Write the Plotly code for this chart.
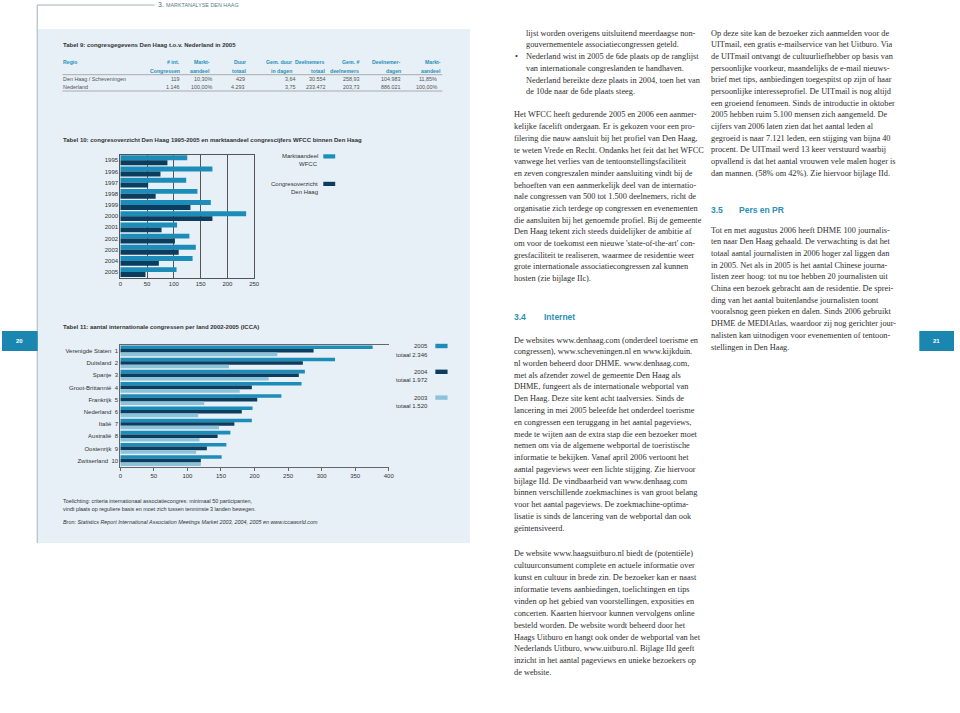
import plotly.graph_objects as go

W, H = 960, 713

# ---------------- data ----------------
# Tabel 10
years = ['1995', '1996', '1997', '1998', '1999', '2000', '2001', '2002', '2003', '2004', '2005']
wfcc = [125, 172, 123, 144, 169, 235, 106, 129, 141, 135, 105]
denhaag = [88, 75, 52, 66, 131, 172, 77, 102, 109, 72, 47]
t10_ticks = [0, 50, 100, 150, 200, 250]

# Tabel 11
countries = ['Verenigde Staten', 'Duitsland', 'Spanje', 'Groot-Brittannië', 'Frankrijk',
             'Nederland', 'Italië', 'Australië', 'Oostenrijk', 'Zwitserland']
ranks = [1, 2, 3, 4, 5, 6, 7, 8, 9, 10]
c2005 = [376, 320, 275, 270, 240, 197, 196, 164, 158, 151]
c2004 = [288, 272, 266, 196, 204, 181, 170, 145, 129, 120]
c2003 = [234, 162, 221, 178, 125, 116, 147, 118, 113, 120]
t11_ticks = [0, 50, 100, 150, 200, 250, 300, 350, 400]
t11_legend = [('2005', 'totaal 2.346'), ('2004', 'totaal 1.972'), ('2003', 'totaal 1.520')]

# Tabel 9
t9_head1 = ['# int.', 'Markt-', 'Duur', 'Gem. duur', 'Deelnemers', 'Gem. #', 'Deelnemer-', 'Markt-']
t9_head2 = ['Congressen', 'aandeel', 'totaal', 'in dagen', 'totaal', 'deelnemers', 'dagen', 'aandeel']
t9_rows = ['Den Haag / Scheveningen', 'Nederland']
t9_vals = [
    ['119', '10,30%', '429', '3,64', '30.554', '258,93', '104.983', '11,85%'],
    ['1.146', '100,00%', '4.293', '3,75', '233.472', '203,73', '886.021', '100,00%'],
]

# body text columns
col2a = ["lijst worden overigens uitsluitend meerdaagse non-",
         "gouvernementele associatiecongressen geteld."]
col2b = ["Nederland wist in 2005 de 6de plaats op de ranglijst",
         "van internationale congreslanden te handhaven.",
         "Nederland bereikte deze plaats in 2004, toen het van",
         "de 10de naar de 6de plaats steeg."]
col2c = ["Het WFCC heeft gedurende 2005 en 2006 een aanmer-",
         "kelijke facelift ondergaan. Er is gekozen voor een pro-",
         "filering die nauw aansluit bij het profiel van Den Haag,",
         "te weten Vrede en Recht. Ondanks het feit dat het WFCC",
         "vanwege het verlies van de tentoonstellingsfaciliteit",
         "en zeven congreszalen minder aansluiting vindt bij de",
         "behoeften van een aanmerkelijk deel van de internatio-",
         "nale congressen van 500 tot 1.500 deelnemers, richt de",
         "organisatie zich terdege op congressen en evenementen",
         "die aansluiten bij het genoemde profiel. Bij de gemeente",
         "Den Haag tekent zich steeds duidelijker de ambitie af",
         "om voor de toekomst een nieuwe 'state-of-the-art' con-",
         "gresfaciliteit te realiseren, waarmee de residentie weer",
         "grote internationale associatiecongressen zal kunnen",
         "hosten (zie bijlage IIc)."]
col2d = ["De websites www.denhaag.com (onderdeel toerisme en",
         "congressen), www.scheveningen.nl en www.kijkduin.",
         "nl worden beheerd door DHME. www.denhaag.com,",
         "met als afzender zowel de gemeente Den Haag als",
         "DHME, fungeert als de internationale webportal van",
         "Den Haag. Deze site kent acht taalversies. Sinds de",
         "lancering in mei 2005 beleefde het onderdeel toerisme",
         "en congressen een teruggang in het aantal pageviews,",
         "mede te wijten aan de extra stap die een bezoeker moet",
         "nemen om via de algemene webportal de toeristische",
         "informatie te bekijken. Vanaf april 2006 vertoont het",
         "aantal pageviews weer een lichte stijging. Zie hiervoor",
         "bijlage IId. De vindbaarheid van www.denhaag.com",
         "binnen verschillende zoekmachines is van groot belang",
         "voor het aantal pageviews. De zoekmachine-optima-",
         "lisatie is sinds de lancering van de webportal dan ook",
         "geïntensiveerd."]
col2e = ["De website www.haagsuitburo.nl biedt de (potentiële)",
         "cultuurconsument complete en actuele informatie over",
         "kunst en cultuur in brede zin. De bezoeker kan er naast",
         "informatie tevens aanbiedingen, toelichtingen en tips",
         "vinden op het gebied van voorstellingen, exposities en",
         "concerten. Kaarten hiervoor kunnen vervolgens online",
         "besteld worden. De website wordt beheerd door het",
         "Haags Uitburo en hangt ook onder de webportal van het",
         "Nederlands Uitburo, www.uitburo.nl. Bijlage IId geeft",
         "inzicht in het aantal pageviews en unieke bezoekers op",
         "de website."]
col3a = ["Op deze site kan de bezoeker zich aanmelden voor de",
         "UITmail, een gratis e-mailservice van het Uitburo. Via",
         "de UITmail ontvangt de cultuurliefhebber op basis van",
         "persoonlijke voorkeur, maandelijks de e-mail nieuws-",
         "brief met tips, aanbiedingen toegespitst op zijn of haar",
         "persoonlijke interesseprofiel. De UITmail is nog altijd",
         "een groeiend fenomeen. Sinds de introductie in oktober",
         "2005 hebben ruim 5.100 mensen zich aangemeld. De",
         "cijfers van 2006 laten zien dat het aantal leden al",
         "gegroeid is naar 7.121 leden, een stijging van bijna 40",
         "procent. De UITmail werd 13 keer verstuurd waarbij",
         "opvallend is dat het aantal vrouwen vele malen hoger is",
         "dan mannen. (58% om 42%). Zie hiervoor bijlage IId."]
col3b = ["Tot en met augustus 2006 heeft DHME 100 journalis-",
         "ten naar Den Haag gehaald. De verwachting is dat het",
         "totaal aantal journalisten in 2006 hoger zal liggen dan",
         "in 2005. Net als in 2005 is het aantal Chinese journa-",
         "listen zeer hoog: tot nu toe hebben 20 journalisten uit",
         "China een bezoek gebracht aan de residentie. De sprei-",
         "ding van het aantal buitenlandse journalisten toont",
         "vooralsnog geen pieken en dalen. Sinds 2006 gebruikt",
         "DHME de MEDIAtlas, waardoor zij nog gerichter jour-",
         "nalisten kan uitnodigen voor evenementen of tentoon-",
         "stellingen in Den Haag."]

# ---------------- styles ----------------
C_MID = '#1c8cb8'
C_DARK = '#0c3d5e'
C_LIGHT = '#8cc3db'
PANEL = '#e6f0f6'
TEAL = '#2b8fb7'
TXT = '#333333'
SANS = 'Liberation Sans'
SERIF = 'Liberation Serif'


def fx(px):
    return px / W


def fy(py):
    return 1 - py / H


annotations = []
shapes = []


def txt(x, y, s, size=6, color=TXT, family=SANS, anchor='left', bold=False, italic=False):
    if bold:
        s = '<b>' + s + '</b>'
    if italic:
        s = '<i>' + s + '</i>'
    annotations.append(dict(x=fx(x), y=fy(y), xref='paper', yref='paper', text=s,
                            showarrow=False, xanchor=anchor, yanchor='middle',
                            borderpad=0, font=dict(size=size, color=color, family=family)))


def rect(x0, y0, x1, y1, color, layer='below'):
    shapes.append(dict(type='rect', xref='paper', yref='paper', x0=fx(x0), x1=fx(x1),
                       y0=fy(y0), y1=fy(y1), fillcolor=color, line=dict(width=0), layer=layer))


def hline(x0, x1, y, color='#999999', width=0.8):
    shapes.append(dict(type='line', xref='paper', yref='paper', x0=fx(x0), x1=fx(x1),
                       y0=fy(y), y1=fy(y), line=dict(color=color, width=width), layer='above'))


def vline(x, y0, y1, color='#999999', width=0.8):
    shapes.append(dict(type='line', xref='paper', yref='paper', x0=fx(x), x1=fx(x),
                       y0=fy(y0), y1=fy(y1), line=dict(color=color, width=width), layer='above'))


# ---------------- page decoration ----------------
rect(36, 29, 472, 543, PANEL)
hline(35.5, 154, 5, color='#9db4bd', width=1)
vline(35.5, 5, 543, color='#9db4bd', width=1)
txt(156, 4.5, '3.', size=7, color='#4f6e7a')
txt(164, 4.5, 'MARKTANALYSE DEN HAAG', size=5.4, color='#5b7b87')
rect(0, 331, 36, 351, '#1b86b0', layer='above')
rect(925, 331, 960, 351, '#1b86b0', layer='above')
txt(18, 341, '20', size=6, color='white', anchor='center', bold=True)
txt(942, 341, '21', size=6, color='white', anchor='center', bold=True)

# ---------------- Tabel 9 ----------------
txt(60, 45, 'Tabel 9: congresgegevens Den Haag t.o.v. Nederland in 2005', size=6, bold=True)
head_right = [180, 211, 247, 293.5, 327, 361, 403, 444]
val_right = [180, 213, 246, 297, 328, 362, 403, 440]
txt(61, 62.3, 'Regio', size=5.2, color=TEAL, bold=True)
for h1, h2, xr in zip(t9_head1, t9_head2, head_right):
    txt(xr, 62.3, h1, size=5.2, color=TEAL, anchor='right', bold=True)
    txt(xr, 70.7, h2, size=5.2, color=TEAL, anchor='right', bold=True)
hline(61, 444, 74.7)
for i, (name, vals) in enumerate(zip(t9_rows, t9_vals)):
    yy = 78.7 + 8 * i
    txt(61, yy, name, size=5.4, color='#555555')
    for v, xr in zip(vals, val_right):
        txt(xr, yy, v, size=5.4, color='#555555', anchor='right')
hline(61, 444, 91)

# ---------------- Tabel 10 ----------------
txt(60, 139.7, 'Tabel 10: congresoverzicht Den Haag 1995-2005 en marktaandeel congrescijfers WFCC binnen Den Haag',
    size=6, bold=True)
rect(324, 154.3, 336, 158.5, C_MID, layer='above')
rect(324, 181.8, 336, 186, C_DARK, layer='above')
txt(319.5, 156.3, 'Marktaandeel', size=6, anchor='right')
txt(319.5, 164.3, 'WFCC', size=6, anchor='right')
txt(319.5, 184, 'Congresoverzicht', size=6, anchor='right')
txt(319.5, 192.2, 'Den Haag', size=6, anchor='right')

# ---------------- Tabel 11 ----------------
txt(60, 327.3, 'Tabel 11: aantal internationale congressen per land 2002-2005 (ICCA)', size=6, bold=True)
for i, ((yr, tot), col) in enumerate(zip(t11_legend, [C_MID, C_DARK, C_LIGHT])):
    yc = 346 + 25.8 * i
    rect(437, yc - 2.2, 449.3, yc + 2.2, col, layer='above')
    txt(430.5, yc, yr, size=6, anchor='right')
    txt(430.5, yc + 8.6, tot, size=6, anchor='right')
txt(60, 501, 'Toelichting: criteria internationaal associatiecongres: minimaal 50 participanten,', size=5.4)
txt(60, 509, 'vindt plaats op reguliere basis en moet zich tussen tenminste 3 landen bewegen.', size=5.4)
txt(60, 522.3, 'Bron: Statistics Report International Association Meetings Market 2003, 2004, 2005 en www.iccaworld.com',
    size=5.4, italic=True)

# ---------------- body text ----------------
BODY = dict(size=8.3, color='#2e2e2e', family=SERIF)
LS = 11.67


def block(x, y0, lines, step=LS):
    for k, s in enumerate(lines):
        txt(x, y0 + k * step, s, **BODY)


block(527, 33.3, col2a)
txt(516, 56.7, '•', **BODY)
block(527, 56.7, col2b)
block(515, 115, col2c)
txt(515, 316.7, '3.4', size=8.5, color=TEAL, bold=True)
txt(546, 316.7, 'Internet', size=8.5, color=TEAL, bold=True)
block(515, 340, col2d, step=11.75)
block(515, 553.7, col2e, step=11.9)
block(714, 33.3, col3a)
txt(714, 210, '3.5', size=8.5, color=TEAL, bold=True)
txt(742, 210, 'Pers en PR', size=8.5, color=TEAL, bold=True)
block(714, 230.3, col3b)

# ---------------- figure ----------------
fig = go.Figure()
fig.add_trace(go.Bar(y=years, x=wfcc, orientation='h', marker=dict(color=C_MID, line=dict(width=0)),
                     name='Marktaandeel WFCC', xaxis='x', yaxis='y'))
fig.add_trace(go.Bar(y=years, x=denhaag, orientation='h', marker=dict(color=C_DARK, line=dict(width=0)),
                     name='Congresoverzicht Den Haag', xaxis='x', yaxis='y'))

labels11 = [f'{c}  {r}' for c, r in zip(countries, ranks)]
for vals, col, (yr, _) in zip([c2005, c2004, c2003], [C_MID, C_DARK, C_LIGHT], t11_legend):
    fig.add_trace(go.Bar(y=labels11, x=vals, orientation='h', marker=dict(color=col, line=dict(width=0)),
                         name=yr, xaxis='x2', yaxis='y2'))

axfont = dict(size=6, color=TXT, family=SANS)
fig.update_layout(
    width=W, height=H,
    margin=dict(l=0, r=0, t=0, b=0),
    paper_bgcolor='white', plot_bgcolor='rgba(0,0,0,0)',
    showlegend=False, barmode='group', bargap=0.12, bargroupgap=0,
    xaxis=dict(domain=[fx(119.3), fx(254.3)], anchor='y', range=[0, 250], tickvals=t10_ticks,
               showgrid=True, gridcolor='#555555', gridwidth=1, showline=True, linecolor='#555555',
               linewidth=1, mirror=True, ticks='', zeroline=False, tickfont=axfont, fixedrange=True),
    yaxis=dict(domain=[fy(277.7), fy(154.7)], anchor='x', categoryorder='array', categoryarray=years,
               autorange='reversed', showline=True, linecolor='#555555', linewidth=1, mirror=True,
               ticks='', showgrid=False, tickfont=axfont, fixedrange=True),
    xaxis2=dict(domain=[fx(119.3), fx(390)], anchor='y2', range=[0, 400], tickvals=t11_ticks,
                showgrid=False, showline=True, linecolor='#666666', linewidth=1, mirror=True,
                ticks='outside', ticklen=3, tickcolor='#666666', zeroline=False, tickfont=axfont,
                fixedrange=True),
    yaxis2=dict(domain=[fy(466.7), fy(344.7)], anchor='x2', categoryorder='array', categoryarray=labels11,
                autorange='reversed', showline=True, linecolor='#666666', linewidth=1, mirror=False,
                ticks='', showgrid=False, tickfont=axfont, fixedrange=True),
    annotations=annotations,
    shapes=shapes,
)

fig.write_html('out.html', config={'displayModeBar': False},
               post_script="document.body.style.margin='0';")
